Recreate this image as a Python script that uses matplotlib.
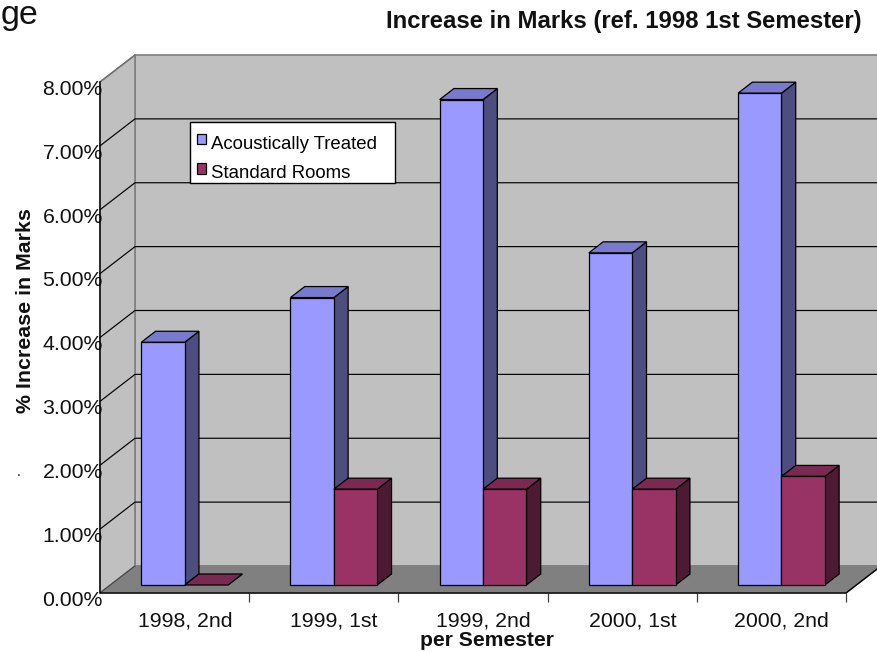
import matplotlib
matplotlib.use("Agg")
import matplotlib.pyplot as plt
from matplotlib.patches import Polygon, Patch, Rectangle
from matplotlib.transforms import ScaledTranslation

plt.rcParams['font.family'] = ['Liberation Sans', 'DejaVu Sans']

categories = ['1998, 2nd', '1999, 1st', '1999, 2nd', '2000, 1st', '2000, 2nd']
acoustic = [3.8, 4.5, 7.6, 5.2, 7.7]
standard = [0.0, 1.5, 1.5, 1.5, 1.7]
y_ticks = [0, 1, 2, 3, 4, 5, 6, 7, 8]
y_labels = ['0.00%', '1.00%', '2.00%', '3.00%', '4.00%', '5.00%', '6.00%', '7.00%', '8.00%']

W, H = 878, 652
L, R, B, T = 100, 846, 593, 82
fig = plt.figure(figsize=(W / 100, H / 100), dpi=100)
ax = fig.add_axes([L / W, (H - B) / H, (R - L) / W, (B - T) / H])
ax.set_xlim(0, 5)
ax.set_ylim(0, 8)
ax.patch.set_visible(False)
for s in ax.spines.values():
    s.set_visible(False)

CAT_PX = (R - L) / 5
DX = 35 / CAT_PX             # full depth in x units
DY = 27 / ((B - T) / 8)      # full depth in y units
D0, D1 = 8 / 27, 19 / 27     # bar front and back depth
BW = 43.4 / CAT_PX           # bar width in x units
NUDGE = -0.3 / CAT_PX


def p(x, y, d=0.0):
    return (x + d * DX, y + d * DY)


def poly(pts, fc, ec, lw=1.0, z=1):
    ax.add_patch(Polygon(pts, closed=True, facecolor=fc, edgecolor=ec, linewidth=lw,
                         zorder=z, clip_on=False, joinstyle='miter'))


# walls and floor
poly([p(0, 0, 1), p(5, 0, 1), p(5, 8, 1), p(0, 8, 1)], '#C0C0C0', '#808080', 1.2, 1)
poly([p(0, 0), p(0, 0, 1), p(0, 8, 1), p(0, 8)], '#C0C0C0', '#808080', 1.2, 1)
poly([p(0, 0), p(5, 0), p(5, 0, 1), p(0, 0, 1)], '#808080', '#808080', 1.0, 1)

# gridlines on back and side walls
for v in y_ticks[1:-1]:
    ax.plot(*zip(p(0, v), p(0, v, 1), p(5, v, 1)), color='black', lw=0.85, zorder=2,
            clip_on=False)
ax.plot(*zip(p(0, 8), p(0, 8, 1)), color='#707070', lw=0.9, zorder=2, clip_on=False)
ax.plot(*zip(p(0, 0), p(0, 0, 1)), color='#404040', lw=0.7, zorder=2, clip_on=False)
# axis lines
ax.plot(*zip(p(0, 8), p(0, 0), p(5, 0), p(5, 0, 1)), color='black', lw=1.0, zorder=2.5,
        clip_on=False)


def bar3d(x0, h, front, top, side, z):
    x1 = x0 + BW
    poly([p(x1, 0, D0), p(x1, 0, D1), p(x1, h, D1), p(x1, h, D0)], side, 'black', 0.9, z)
    poly([p(x0, h, D0), p(x1, h, D0), p(x1, h, D1), p(x0, h, D1)], top, 'black', 0.9, z)
    if h > 0:
        poly([p(x0, 0, D0), p(x1, 0, D0), p(x1, h, D0), p(x0, h, D0)], front, 'black', 0.9, z)


for i, (a, s) in enumerate(zip(acoustic, standard)):
    c = i + 0.5 + NUDGE
    bar3d(c - BW, a, '#9999FF', '#7A7ACC', '#4D4D80', 3 + i * 0.1)
    bar3d(c, s, '#993366', '#7A2952', '#4D1A33', 3.05 + i * 0.1)

# axes ticks and labels
ax.set_xticks(range(1, 6))
ax.set_xticklabels([])
ax.set_xticks([i + 0.5 + D0 * DX for i in range(5)], minor=True)
ax.set_xticklabels(categories, minor=True, fontsize=15.3, color='#111111')
ax.tick_params(axis='x', which='major', length=6.5, width=0.9, color='#404040', direction='out')
ax.tick_params(axis='x', which='minor', length=0, pad=13)
ax.set_yticks(y_ticks)
ax.set_yticklabels(y_labels, fontsize=15.3, color='#111111')
ax.tick_params(axis='y', length=0, pad=-2)
shift = ScaledTranslation(0, -5.3 / 100, fig.dpi_scale_trans)
for lab in ax.get_yticklabels():
    lab.set_transform(lab.get_transform() + shift)

fig.text(487 / W, 1 - 640 / H, 'per Semester', fontsize=15.2, fontweight='bold',
         ha='center', va='center', color='#111111')
fig.text(26 / W, 1 - 310.5 / H, '% Increase in Marks', fontsize=15.4, fontweight='bold',
         rotation=90, ha='center', va='center', color='#111111')
fig.text(623.5 / W, 1 - 28 / H, 'Increase in Marks (ref. 1998 1st Semester)', fontsize=17.2,
         fontweight='bold', ha='center', va='baseline', color='#111111')
fig.text(1 / W, 1 - 24 / H, 'ge', fontsize=24.5, ha='left', va='baseline', color='#111111')
fig.text(19 / W, 1 - 476 / H, '.', fontsize=10, ha='center', va='baseline', color='#111111')

# legend box with rows placed low inside it
fig.add_artist(Rectangle((190.5 / W, 1 - 183 / H), 204.5 / W, 61.5 / H, transform=fig.transFigure,
                         facecolor='white', edgecolor='black', linewidth=1.0, zorder=9))
handles = [Patch(facecolor='#9999FF', edgecolor='black', linewidth=0.9, label='Acoustically Treated'),
           Patch(facecolor='#993366', edgecolor='black', linewidth=0.9, label='Standard Rooms')]
leg = fig.legend(handles=handles, loc='upper left', bbox_to_anchor=(197 / W, 1 - 136 / H),
                 borderaxespad=0, frameon=False, fontsize=13.4, handlelength=0.5,
                 handleheight=0.5, handletextpad=0.25, borderpad=0, labelspacing=0.66)
leg.set_zorder(10)
for h in leg.legend_handles:
    h.set_y(h.get_y() + 2.5)

fig.savefig('out.png', dpi=100)
